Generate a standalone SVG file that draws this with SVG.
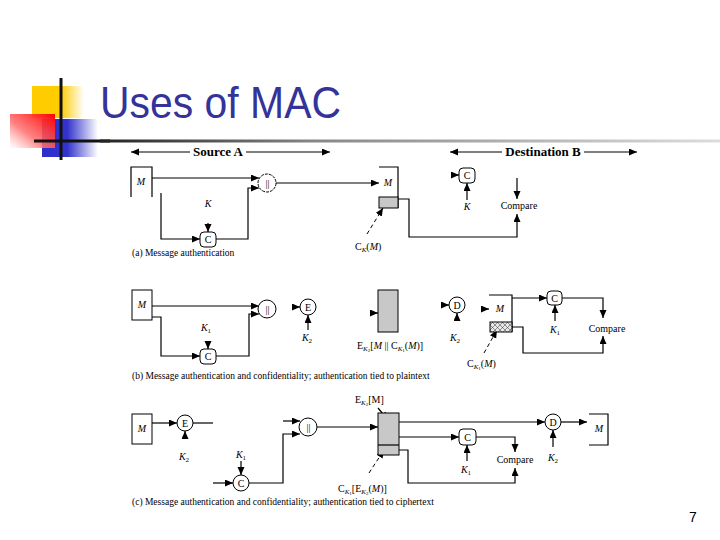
<svg xmlns="http://www.w3.org/2000/svg" width="720" height="540" viewBox="0 0 720 540">
<defs>
<marker id="ah" markerUnits="userSpaceOnUse" markerWidth="9" markerHeight="8" refX="8" refY="3.5" orient="auto"><path d="M0,0 L8,3.5 L0,7 z" fill="#000"/></marker>
<linearGradient id="gy" x1="0" x2="1" y1="0" y2="0"><stop offset="0" stop-color="#FFCC00"/><stop offset="0.55" stop-color="#FFCC00"/><stop offset="1" stop-color="#FFCC00" stop-opacity="0"/></linearGradient>
<linearGradient id="gb" x1="0" x2="1" y1="0" y2="0"><stop offset="0" stop-color="#2E2ECC"/><stop offset="0.45" stop-color="#3333CC"/><stop offset="1" stop-color="#3333CC" stop-opacity="0"/></linearGradient>
<linearGradient id="gr" x1="1" x2="0" y1="0" y2="1"><stop offset="0" stop-color="#FF0000"/><stop offset="0.6" stop-color="#FF6F6F" stop-opacity="0.85"/><stop offset="1" stop-color="#FFFFFF" stop-opacity="0.6"/></linearGradient>
<linearGradient id="gl" x1="0" x2="1" y1="0" y2="0"><stop offset="0" stop-color="#222"/><stop offset="0.35" stop-color="#888"/><stop offset="1" stop-color="#ddd"/></linearGradient>
<pattern id="hatch" patternUnits="userSpaceOnUse" width="5" height="5"><rect width="5" height="5" fill="#e8e8e8"/><path d="M0,0 L5,5 M5,0 L0,5" stroke="#333" stroke-width="0.5"/></pattern>
</defs>
<style>
.ln{fill:none;stroke:#000;stroke-width:1.2}
.ar{fill:none;stroke:#000;stroke-width:1.2;marker-end:url(#ah)}
.ds{fill:none;stroke:#000;stroke-width:1;stroke-dasharray:4,3;marker-end:url(#ah)}
.nd{fill:#fff;stroke:#000;stroke-width:1}
.t{font-family:"Liberation Serif",serif;font-size:10px;fill:#000}
.i{font-style:italic}
.c{text-anchor:middle}
.hd{font-family:"Liberation Serif",serif;font-size:13px;font-weight:bold;fill:#000}
.cap{font-family:"Liberation Serif",serif;font-size:9.5px;fill:#000}
</style>
<rect width="720" height="540" fill="#fff"/>
<g id="logo">
<rect x="32" y="86" width="52" height="32" fill="url(#gy)"/>
<rect x="42" y="119" width="56" height="38" fill="url(#gb)"/>
<rect x="10" y="114" width="45" height="34" fill="url(#gr)"/>
<line x1="61" y1="78" x2="61" y2="160" stroke="#111" stroke-width="3"/>
<line x1="34" y1="141" x2="110" y2="141" stroke="#111" stroke-width="3"/>
<rect x="100" y="139.5" width="620" height="3" fill="url(#gl)"/>
</g>
<text x="100" y="118" font-family="Liberation Sans,Arial,sans-serif" font-size="44" fill="#33339A" textLength="241" lengthAdjust="spacingAndGlyphs">Uses of MAC</text>
<g id="headers">
<line class="ar" x1="190" y1="152" x2="131" y2="152"/>
<line class="ar" x1="246" y1="152" x2="330" y2="152"/>
<text class="hd c" x="218" y="156">Source A</text>
<line class="ar" x1="502" y1="152" x2="450" y2="152"/>
<line class="ar" x1="584" y1="152" x2="637" y2="152"/>
<text class="hd c" x="543" y="156">Destination B</text>
</g>
<g id="connectors">
<line class="ar" x1="152" y1="178" x2="259" y2="178"/>
<path class="ar" d="M161,193 V239 H200"/>
<line class="ar" x1="208" y1="223" x2="208" y2="232"/>
<path class="ar" d="M216,239 H248 V188 H259"/>
<line class="ar" x1="276" y1="183" x2="379" y2="183"/>
<line class="ds" x1="367" y1="234" x2="383" y2="208"/>
<path class="ar" d="M398,199 H409 V237 H517 V214"/>
<line class="ar" x1="517" y1="178" x2="517" y2="199"/>
<line class="ar" x1="452" y1="175" x2="459" y2="175"/>
<line class="ar" x1="467" y1="200" x2="467" y2="183"/>

<line class="ar" x1="152" y1="306" x2="259" y2="306"/>
<path class="ar" d="M152,317 H161 V356 H200"/>
<line class="ar" x1="208" y1="342" x2="208" y2="349"/>
<path class="ar" d="M216,356 H249 V314 H259"/>
<line class="ar" x1="293" y1="307" x2="300" y2="307"/>
<line class="ar" x1="308" y1="330" x2="308" y2="315"/>
<line class="ar" x1="371" y1="313" x2="378" y2="313"/>
<line class="ar" x1="442" y1="305" x2="449" y2="305"/>
<line class="ar" x1="457" y1="320" x2="457" y2="313"/>
<line class="ar" x1="482" y1="309" x2="489" y2="309"/>
<line class="ar" x1="512" y1="298" x2="547" y2="298"/>
<path class="ar" d="M562,298 H603 V318"/>
<line class="ar" x1="555" y1="321" x2="555" y2="305"/>
<path class="ar" d="M512,327 H523 V353 H603 V336"/>
<line class="ds" x1="484" y1="353" x2="497" y2="330"/>

<line class="ar" x1="152" y1="423" x2="177" y2="423"/>
<line class="ln" x1="193" y1="423" x2="213" y2="423"/>
<line class="ar" x1="185" y1="438" x2="185" y2="431"/>
<line class="ar" x1="283" y1="421" x2="300" y2="421"/>
<line class="ar" x1="213" y1="483" x2="233" y2="483"/>
<line class="ar" x1="241" y1="461" x2="241" y2="475"/>
<path class="ar" d="M249,483 H283 V434 H300"/>
<line class="ar" x1="317" y1="427" x2="378" y2="427"/>
<line class="ar" x1="378" y1="408" x2="388" y2="420"/>
<line class="ds" x1="369" y1="473" x2="384" y2="450"/>
<line class="ar" x1="399" y1="422" x2="545" y2="422"/>
<line class="ar" x1="561" y1="422" x2="587" y2="422"/>
<line class="ar" x1="553" y1="447" x2="553" y2="430"/>
<line class="ar" x1="399" y1="437" x2="459" y2="437"/>
<path class="ar" d="M476,437 H515 V452"/>
<line class="ar" x1="467" y1="461" x2="467" y2="445"/>
<path class="ar" d="M399,450 H408 V483 H515 V468"/>
</g>
<g id="a-srcM"><path class="ln" d="M131,197 V167 H152 V197"/><text class="t i c" x="141" y="185">M</text></g>
<g id="a-K"><text class="t i c" x="208" y="207">K</text></g>
<g id="a-C"><rect class="nd" x="200" y="232" width="16" height="15" rx="4"/><text class="t c" x="208" y="243">C</text></g>
<g id="a-cat"><circle class="nd" cx="267" cy="183" r="9" stroke-dasharray="3,1"/><text class="t c" x="267.5" y="187">||</text></g>
<g id="a-dstM"><path class="ln" d="M379,167 H398 V208"/><rect x="379" y="197" width="19" height="11" fill="#c8c8c8" stroke="#000" stroke-width="1"/><text class="t i c" x="388" y="186">M</text></g>
<g id="a-mac"><text class="t" x="355" y="250">C<tspan class="i" font-size="7" dy="2">K</tspan><tspan dy="-2">(</tspan><tspan class="i">M</tspan>)</text></g>
<g id="a-dC"><rect class="nd" x="459" y="168" width="16" height="15" rx="4"/><text class="t c" x="467" y="179">C</text><text class="t i c" x="467" y="210">K</text></g>
<g id="a-cmp"><text class="t c" x="519" y="209">Compare</text></g>
<text class="cap" x="132" y="256">(a) Message authentication</text>

<g id="b-srcM"><rect class="nd" x="132" y="290" width="20" height="30"/><text class="t i c" x="142" y="308">M</text></g>
<g id="b-K1"><text class="t i c" x="206" y="331">K<tspan font-size="7" font-style="normal" dy="2">1</tspan></text></g>
<g id="b-C"><rect class="nd" x="200" y="349" width="16" height="15" rx="4"/><text class="t c" x="208" y="360">C</text></g>
<g id="b-cat"><circle class="nd" cx="267" cy="309" r="9"/><text class="t c" x="267.5" y="313">||</text></g>
<g id="b-E"><circle class="nd" cx="308" cy="307" r="8"/><text class="t c" x="308" y="311">E</text><text class="t i c" x="307" y="341">K<tspan font-size="7" font-style="normal" dy="2">2</tspan></text></g>
<g id="b-ct"><rect x="378" y="290" width="20" height="42" fill="#c8c8c8" stroke="#000" stroke-width="1"/><text class="t" x="357" y="349">E<tspan class="i" font-size="7" dy="2">K</tspan><tspan font-size="5" dy="1">2</tspan><tspan dy="-3">[</tspan><tspan class="i">M</tspan> || C<tspan class="i" font-size="7" dy="2">K</tspan><tspan font-size="5" dy="1">1</tspan><tspan dy="-3">(</tspan><tspan class="i">M</tspan>)]</text></g>
<g id="b-D"><circle class="nd" cx="457" cy="305" r="8"/><text class="t c" x="457" y="309">D</text><text class="t i c" x="455" y="341">K<tspan font-size="7" font-style="normal" dy="2">2</tspan></text></g>
<g id="b-dstM"><path class="ln" d="M489,295 H512 V332"/><rect x="490" y="322" width="22" height="10" fill="url(#hatch)" stroke="#000" stroke-width="1"/><text class="t i c" x="500" y="312">M</text></g>
<g id="b-mac"><text class="t" x="467" y="367">C<tspan class="i" font-size="7" dy="2">K</tspan><tspan font-size="5" dy="1">1</tspan><tspan dy="-3">(</tspan><tspan class="i">M</tspan>)</text></g>
<g id="b-dC"><rect class="nd" x="547" y="291" width="15" height="14" rx="4"/><text class="t c" x="554.5" y="302">C</text><text class="t i c" x="555" y="333">K<tspan font-size="7" font-style="normal" dy="2">1</tspan></text></g>
<g id="b-cmp"><text class="t c" x="607" y="332">Compare</text></g>
<text class="cap" x="132" y="379">(b) Message authentication and confidentiality; authentication tied to plaintext</text>

<g id="c-srcM"><rect class="nd" x="132" y="414" width="20" height="30"/><text class="t i c" x="142" y="432">M</text></g>
<g id="c-E"><circle class="nd" cx="185" cy="423" r="8"/><text class="t c" x="185" y="427">E</text><text class="t i c" x="184" y="460">K<tspan font-size="7" font-style="normal" dy="2">2</tspan></text></g>
<g id="c-C"><circle class="nd" cx="241" cy="483" r="8"/><text class="t c" x="241" y="487">C</text><text class="t i c" x="241" y="458">K<tspan font-size="7" font-style="normal" dy="2">1</tspan></text></g>
<g id="c-cat"><circle class="nd" cx="308" cy="427" r="9"/><text class="t c" x="308.5" y="431">||</text></g>
<g id="c-ct"><rect x="378" y="413" width="21" height="42" fill="#c8c8c8" stroke="#000" stroke-width="1"/><line class="ln" x1="378" y1="445" x2="399" y2="445"/><text class="t" x="355" y="403">E<tspan class="i" font-size="7" dy="2">K</tspan><tspan font-size="5" dy="1">2</tspan><tspan dy="-3">[M]</tspan></text></g>
<g id="c-mac"><text class="t" x="338" y="492">C<tspan class="i" font-size="7" dy="2">K</tspan><tspan font-size="5" dy="1">1</tspan><tspan dy="-3">[E</tspan><tspan class="i" font-size="7" dy="2">K</tspan><tspan font-size="5" dy="1">2</tspan><tspan dy="-3">(</tspan><tspan class="i">M</tspan>)]</text></g>
<g id="c-D"><circle class="nd" cx="553" cy="422" r="8"/><text class="t c" x="553" y="426">D</text><text class="t i c" x="553" y="461">K<tspan font-size="7" font-style="normal" dy="2">2</tspan></text></g>
<g id="c-dstM"><path class="ln" d="M589,414 H608 V445 H589"/><text class="t i c" x="599" y="432">M</text></g>
<g id="c-dC"><rect class="nd" x="459" y="429" width="17" height="16" rx="4"/><text class="t c" x="467.5" y="441">C</text><text class="t i c" x="466" y="473">K<tspan font-size="7" font-style="normal" dy="2">1</tspan></text></g>
<g id="c-cmp"><text class="t c" x="515" y="463">Compare</text></g>
<text class="cap" x="132" y="505">(c) Message authentication and confidentiality; authentication tied to ciphertext</text>
<text x="693" y="522" font-family="Liberation Sans,Arial,sans-serif" font-size="14" fill="#000" text-anchor="middle">7</text>
</svg>
